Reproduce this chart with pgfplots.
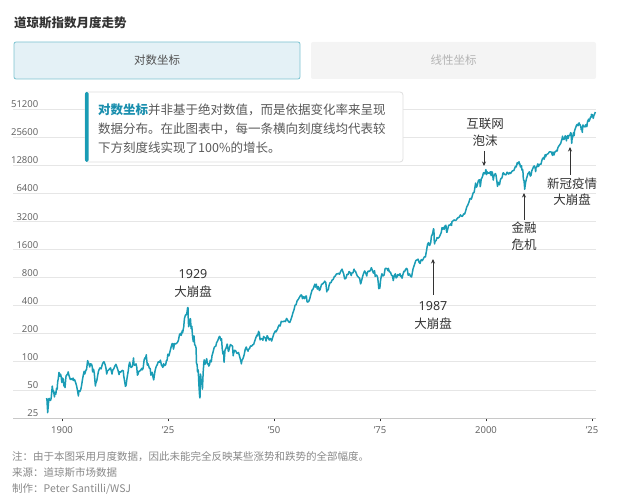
\documentclass[border=0pt]{standalone}
\usepackage{pgfplots}
\pgfplotsset{compat=1.18}
\usepackage{fontspec}
\setmainfont{Noto Sans CJK SC}
\newfontfamily\latin{Noto Sans}
\usetikzlibrary{arrows.meta}
\definecolor{teal1}{HTML}{1A9CB5}
\definecolor{tealtxt}{HTML}{1A8FAE}
\definecolor{gridc}{HTML}{E6E6E6}
\definecolor{axc}{HTML}{C8C8C8}
\definecolor{tick}{HTML}{666666}
\definecolor{dark}{HTML}{333333}
\definecolor{foot}{HTML}{888888}
\definecolor{tabfill}{HTML}{E4F1F6}
\definecolor{tabborder}{HTML}{7CC3D0}
\definecolor{tabgray}{HTML}{F4F4F4}
\definecolor{tabtxt}{HTML}{B4B4B4}
\begin{document}
\begin{tikzpicture}[x=1pt,y=1pt]
\useasboundingbox (0,0) rectangle (621,500);
% title and tabs
\node[anchor=west,inner sep=0pt,text=dark,font=\fontsize{12.5}{14}\selectfont\bfseries] at (14,477.3) {道琼斯指数月度走势};
\draw[tabborder,fill=tabfill,line width=0.8pt,rounded corners=2pt] (14,458) rectangle (300,421);
\node[text=dark!85,font=\fontsize{11.5}{13}\selectfont] at (157,439.5) {对数坐标};
\fill[tabgray,rounded corners=2pt] (311,458) rectangle (596,421);
\node[text=tabtxt,font=\fontsize{11.5}{13}\selectfont] at (453.5,439.5) {线性坐标};
\begin{axis}[
  at={(13pt,82pt)}, anchor=south west,
  width=583pt, height=309pt, scale only axis,
  xmin=1888.44, xmax=2025.94,
  ymode=log, log basis y=2, ymin=25, ymax=51200,
  axis x line*=bottom, axis y line*=left,
  x axis line style={axc, line width=0.8pt},
  y axis line style={draw=none},
  ymajorgrids, grid style={gridc, line width=0.8pt},
  ytick={25,50,100,200,400,800,1600,3200,6400,12800,25600,51200},
  yticklabels={25,50,100,200,400,800,1600,3200,6400,12800,25600,51200},
  ytick style={draw=none},
  xtick={1900,1925,1950,1975,2000,2025},
  xticklabels={1900,’25,’50,’75,2000,’25},
  xtick style={draw=dark, line width=0.9pt},
  tick align=outside, major tick length=3.5pt,
  /pgf/number format/assume math mode=true,
  ticklabel style={font=\latin\fontsize{9.5}{11}\selectfont, text=tick},
  yticklabel style={anchor=south east, xshift=29pt, yshift=1pt, inner sep=0pt},
  xticklabel style={yshift=-2pt},
  clip=false,
]
\addplot[teal1, line width=1.5pt, line join=round, mark=none] table {
1896.37 40.9
1896.45 39
1896.54 33
1896.62 28.5
1896.71 32
1896.79 35
1896.87 40
1896.96 40.5
1897.12 39
1897.29 38.5
1897.45 41
1897.62 50
1897.70 55
1897.87 48
1897.96 49.4
1898.12 45
1898.21 42
1898.37 47
1898.54 45
1898.71 52
1898.87 51
1898.96 60.5
1899.12 66
1899.29 77
1899.45 70
1899.62 74
1899.79 70
1899.96 60
1900.12 67
1900.29 65
1900.45 55
1900.62 57
1900.71 53
1900.87 65
1900.96 70.7
1901.21 73
1901.37 75
1901.45 78
1901.62 72
1901.79 68
1901.96 64.6
1902.21 66
1902.45 64
1902.62 67
1902.79 63
1902.96 64.3
1903.21 60
1903.45 55
1903.62 50
1903.87 43
1903.96 49
1904.21 48
1904.45 51
1904.62 56
1904.79 63
1904.96 69.6
1905.21 79
1905.37 74
1905.62 81
1905.79 83
1905.96 96
1906.04 103
1906.21 98
1906.37 94
1906.54 88
1906.71 95
1906.96 94.3
1907.12 89
1907.21 78
1907.45 83
1907.62 75
1907.87 55
1907.96 58.8
1908.21 63
1908.45 73
1908.62 80
1908.87 85
1908.96 86
1909.21 84
1909.45 92
1909.62 97
1909.87 100
1909.96 99
1910.21 92
1910.37 85
1910.54 74
1910.71 80
1910.96 81.4
1911.21 84
1911.45 86
1911.62 80
1911.79 74
1911.96 81.7
1912.21 84
1912.45 90
1912.71 94
1912.96 87.9
1913.21 81
1913.45 73
1913.62 78
1913.79 77
1913.96 78.8
1914.21 81
1914.45 80
1914.54 71.4
1914.96 54.6
1915.12 56
1915.29 65
1915.45 72
1915.62 80
1915.79 92
1915.96 99
1916.12 91
1916.29 87
1916.45 88
1916.62 90
1916.87 110
1916.96 95
1917.12 92
1917.29 93
1917.45 95
1917.62 88
1917.79 72
1917.96 74.4
1918.12 79
1918.37 80
1918.62 82
1918.79 85
1918.96 82.2
1919.12 85
1919.37 105
1919.54 110
1919.71 108
1919.87 119
1919.96 107
1920.12 92
1920.29 95
1920.45 90
1920.62 85
1920.79 85
1920.96 72
1921.12 76
1921.29 77
1921.45 69
1921.62 64
1921.79 72
1921.96 81
1922.21 89
1922.45 93
1922.71 100
1922.96 98.7
1923.21 104
1923.45 92
1923.62 90
1923.79 87
1923.96 95.5
1924.21 91
1924.45 93
1924.62 103
1924.79 104
1924.96 120.5
1925.21 116
1925.45 128
1925.71 143
1925.96 156.7
1926.12 157
1926.29 137
1926.54 157
1926.71 155
1926.96 157.2
1927.21 161
1927.45 170
1927.71 195
1927.96 202
1928.12 192
1928.37 216
1928.45 205
1928.71 238
1928.87 290
1928.96 300
1929.12 318
1929.29 318
1929.45 333
1929.62 380
1929.71 381
1929.79 273
1929.87 238
1929.96 248
1930.12 270
1930.29 290
1930.45 227
1930.62 240
1930.79 185
1930.96 165
1931.12 190
1931.29 152
1931.45 150
1931.62 140
1931.71 97
1931.87 93
1931.96 78
1932.12 82
1932.29 56
1932.45 43
1932.54 41
1932.62 74
1932.71 72
1932.87 58
1932.96 60
1933.12 51
1933.29 77
1933.45 98
1933.54 105
1933.71 94
1933.87 98
1933.96 100
1934.12 108
1934.29 95
1934.45 96
1934.62 90
1934.79 93
1934.96 104
1935.21 100
1935.37 116
1935.62 127
1935.87 141
1935.96 144
1936.29 148
1936.45 160
1936.71 168
1936.96 180
1937.12 187
1937.21 187
1937.45 170
1937.62 177
1937.71 155
1937.79 138
1937.96 121
1938.12 129
1938.21 99
1938.45 134
1938.71 141
1938.87 150
1938.96 155
1939.21 132
1939.29 129
1939.54 144
1939.71 153
1939.96 150
1940.21 147
1940.37 116
1940.45 122
1940.71 133
1940.96 131
1941.21 124
1941.45 123
1941.62 126
1941.87 115
1941.96 111
1942.21 100
1942.29 95
1942.45 104
1942.71 109
1942.96 119
1943.21 136
1943.45 144
1943.62 136
1943.87 130
1943.96 136
1944.21 138
1944.45 148
1944.71 147
1944.96 152
1945.21 154
1945.45 167
1945.71 181
1945.96 193
1946.12 190
1946.37 212
1946.54 203
1946.71 172
1946.96 177
1947.21 176
1947.37 170
1947.54 187
1947.79 181
1947.96 181
1948.12 167
1948.37 190
1948.45 189
1948.71 178
1948.87 171
1948.96 177
1949.21 177
1949.45 167
1949.62 179
1949.87 193
1949.96 200
1950.29 214
1950.45 209
1950.62 216
1950.87 227
1950.96 235
1951.21 248
1951.45 242
1951.71 271
1951.96 269
1952.21 270
1952.45 274
1952.71 270
1952.96 292
1953.21 280
1953.45 268
1953.71 264
1953.96 281
1954.21 304
1954.45 334
1954.71 361
1954.96 404
1955.21 410
1955.45 451
1955.71 466
1955.96 488
1956.21 511
1956.37 521
1956.54 517
1956.71 475
1956.96 499
1957.21 475
1957.45 503
1957.62 508
1957.79 441
1957.96 436
1958.21 446
1958.45 478
1958.71 532
1958.96 584
1959.21 602
1959.45 644
1959.62 678
1959.79 633
1959.96 679
1960.21 602
1960.45 640
1960.71 580
1960.87 597
1960.96 616
1961.21 676
1961.45 683
1961.71 701
1961.96 731
1962.21 706
1962.45 561
1962.54 591
1962.79 589
1962.96 652
1963.21 705
1963.45 707
1963.71 753
1963.96 763
1964.21 817
1964.45 831
1964.71 873
1964.96 874
1965.21 890
1965.45 868
1965.71 930
1965.96 969
1966.04 984
1966.21 932
1966.45 870
1966.62 788
1966.71 774
1966.96 786
1967.21 865
1967.45 860
1967.71 927
1967.96 905
1968.21 840
1968.37 899
1968.62 896
1968.87 985
1968.96 944
1969.21 936
1969.45 873
1969.62 836
1969.87 812
1969.96 800
1970.21 785
1970.37 700
1970.45 684
1970.71 760
1970.96 839
1971.21 904
1971.37 941
1971.62 898
1971.87 831
1971.96 890
1972.21 940
1972.45 929
1972.71 953
1972.96 1020
1973.04 999
1973.21 951
1973.45 891
1973.71 947
1973.87 822
1973.96 851
1974.21 847
1974.45 802
1974.62 679
1974.71 608
1974.87 619
1974.96 616
1975.12 740
1975.29 821
1975.45 879
1975.62 835
1975.79 836
1975.96 852
1976.21 1000
1976.45 1003
1976.71 990
1976.87 947
1976.96 1005
1977.21 919
1977.45 916
1977.71 848
1977.96 831
1978.12 742
1978.37 841
1978.62 877
1978.79 793
1978.96 805
1979.21 862
1979.45 842
1979.71 879
1979.87 823
1979.96 839
1980.21 786
1980.37 851
1980.62 933
1980.79 925
1980.96 964
1981.21 1004
1981.45 977
1981.62 850
1981.79 852
1981.96 875
1982.21 823
1982.45 812
1982.62 901
1982.79 992
1982.96 1047
1983.21 1130
1983.45 1222
1983.71 1233
1983.96 1259
1984.21 1165
1984.45 1133
1984.62 1224
1984.79 1244
1984.96 1212
1985.21 1266
1985.45 1336
1985.71 1329
1985.87 1472
1985.96 1547
1986.21 1819
1986.45 1893
1986.62 1775
1986.71 1768
1986.96 1896
1987.12 2224
1987.29 2286
1987.45 2419
1987.62 2663
1987.71 2596
1987.79 1994
1987.87 1834
1987.96 1939
1988.21 1988
1988.45 2142
1988.71 2113
1988.96 2169
1989.21 2294
1989.45 2440
1989.62 2737
1989.79 2645
1989.96 2753
1990.12 2627
1990.37 2877
1990.54 2905
1990.71 2453
1990.79 2442
1990.96 2634
1991.21 2914
1991.45 2907
1991.71 3017
1991.87 2895
1991.96 3169
1992.21 3235
1992.45 3319
1992.71 3272
1992.96 3301
1993.21 3436
1993.45 3516
1993.71 3555
1993.96 3754
1994.21 3636
1994.45 3625
1994.71 3843
1994.96 3834
1995.21 4158
1995.45 4556
1995.71 4789
1995.96 5117
1996.21 5588
1996.45 5655
1996.54 5529
1996.71 5882
1996.96 6448
1997.21 6584
1997.37 7331
1997.54 8223
1997.62 7622
1997.79 7442
1997.96 7908
1998.21 8800
1998.37 8900
1998.54 8883
1998.62 7539
1998.71 7843
1998.87 9117
1998.96 9181
1999.21 9786
1999.37 10559
1999.54 10655
1999.71 10337
1999.87 10878
1999.96 11497
2000.04 10941
2000.12 10128
2000.21 10922
2000.37 10522
2000.54 10522
2000.71 10651
2000.87 10415
2000.96 10787
2001.04 10887
2001.21 9879
2001.37 10912
2001.54 10522
2001.71 8848
2001.87 9852
2001.96 10022
2002.21 10404
2002.37 9925
2002.54 8737
2002.71 7592
2002.79 8397
2002.96 8342
2003.12 7891
2003.21 7992
2003.37 8850
2003.54 9234
2003.71 9275
2003.87 9782
2003.96 10454
2004.12 10584
2004.37 10189
2004.54 10140
2004.71 10080
2004.87 10428
2004.96 10783
2005.21 10504
2005.37 10275
2005.54 10641
2005.79 10440
2005.96 10718
2006.21 11109
2006.37 11168
2006.54 11186
2006.71 11679
2006.96 12463
2007.12 12269
2007.37 13628
2007.54 13212
2007.79 13930
2007.87 13372
2007.96 13265
2008.12 12266
2008.21 12263
2008.37 12638
2008.45 11350
2008.62 11544
2008.71 10851
2008.79 9325
2008.87 8829
2008.96 8776
2009.04 8001
2009.12 7063
2009.21 7609
2009.37 8500
2009.54 9172
2009.71 9712
2009.87 10345
2009.96 10428
2010.21 10857
2010.37 10137
2010.45 9774
2010.62 10015
2010.79 11118
2010.96 11578
2011.21 12320
2011.37 12570
2011.54 12144
2011.62 11614
2011.71 10913
2011.79 11955
2011.96 12218
2012.21 13212
2012.37 12393
2012.62 13091
2012.79 13096
2012.96 13104
2013.21 14579
2013.37 15116
2013.62 15500
2013.71 14810
2013.87 16086
2013.96 16577
2014.04 15699
2014.21 16458
2014.45 16827
2014.71 17043
2014.79 17391
2014.96 17823
2015.21 17776
2015.45 17620
2015.62 16528
2015.71 16285
2015.79 17664
2015.96 17425
2016.04 16466
2016.21 17685
2016.45 17930
2016.62 18401
2016.79 18142
2016.87 19124
2016.96 19763
2017.21 20663
2017.45 21350
2017.62 21948
2017.79 23377
2017.96 24719
2018.04 26149
2018.12 25029
2018.21 24103
2018.45 24271
2018.62 25965
2018.71 26458
2018.79 25116
2018.87 25538
2018.96 23327
2019.12 25916
2019.29 26593
2019.37 24815
2019.45 26600
2019.62 26403
2019.79 27046
2019.96 28538
2020.04 28256
2020.12 25409
2020.21 21917
2020.29 24346
2020.45 25813
2020.62 28430
2020.71 27782
2020.79 26502
2020.87 29639
2020.96 30606
2021.21 32982
2021.37 34529
2021.54 34935
2021.71 33844
2021.79 35820
2021.87 34484
2021.96 36338
2022.04 35132
2022.21 34678
2022.37 32990
2022.45 30775
2022.62 31510
2022.71 28726
2022.79 32733
2022.87 34590
2022.96 33147
2023.21 33274
2023.37 32908
2023.45 34408
2023.62 34722
2023.71 33508
2023.79 33053
2023.87 35951
2023.96 37690
2024.12 38996
2024.21 39807
2024.29 37816
2024.45 39119
2024.62 41563
2024.71 42330
2024.79 41763
2024.87 44911
2024.96 42544
2025.04 44545
2025.12 43841
2025.21 42002
2025.29 40669
2025.37 42270
2025.45 44095
2025.54 44131
2025.62 45545
2025.71 46398
2025.79 47563
};
\end{axis}
% info box
\draw[draw=black!13,fill=white,rounded corners=3pt,line width=0.8pt] (85,408) rectangle (403,338);
\fill[teal1,rounded corners=1.5pt] (85,408) rectangle (88.5,338);
\begin{scope}[every node/.style={anchor=west,inner sep=0pt,text=black!65,font=\fontsize{12.5}{14}\selectfont}]
\node at (98,390) {{\color{tealtxt}\bfseries 对数坐标}并非基于绝对数值，而是依据变化率来呈现};
\node at (98,371) {数据分布。在此图表中，每一条横向刻度线均代表较};
\node at (98,352) {下方刻度线实现了100\%的增长。};
\end{scope}
% annotations
\begin{scope}[every node/.style={inner sep=0pt,text=dark,font=\fontsize{12.5}{14}\selectfont}]
\node at (193,226) {\latin 1929};
\node at (193,208) {大崩盘};
\node at (433,194) {\latin 1987};
\node at (433,176) {大崩盘};
\node at (485,376) {互联网};
\node at (485,359) {泡沫};
\node at (524,272) {金融};
\node at (524,255) {危机};
\node at (572,316) {新冠疫情};
\node at (572,300) {大崩盘};
\end{scope}
\begin{scope}[dark, line width=0.8pt, -{Stealth[length=4.5pt,width=4pt]}]
\draw (433,205) -- (433,241);
\draw (484,349) -- (484,334);
\draw (524,280) -- (524,307);
\draw (570,325) -- (570,353);
\end{scope}
% footer
\begin{scope}[every node/.style={anchor=west,inner sep=0pt,text=foot,font=\fontsize{10.5}{12}\selectfont}]
\node at (12,43) {注：由于本图采用月度数据，因此未能完全反映某些涨势和跌势的全部幅度。};
\node at (12,27) {来源：道琼斯市场数据};
\node at (12,11) {制作：Peter Santilli/WSJ};
\end{scope}
\end{tikzpicture}
\end{document}
